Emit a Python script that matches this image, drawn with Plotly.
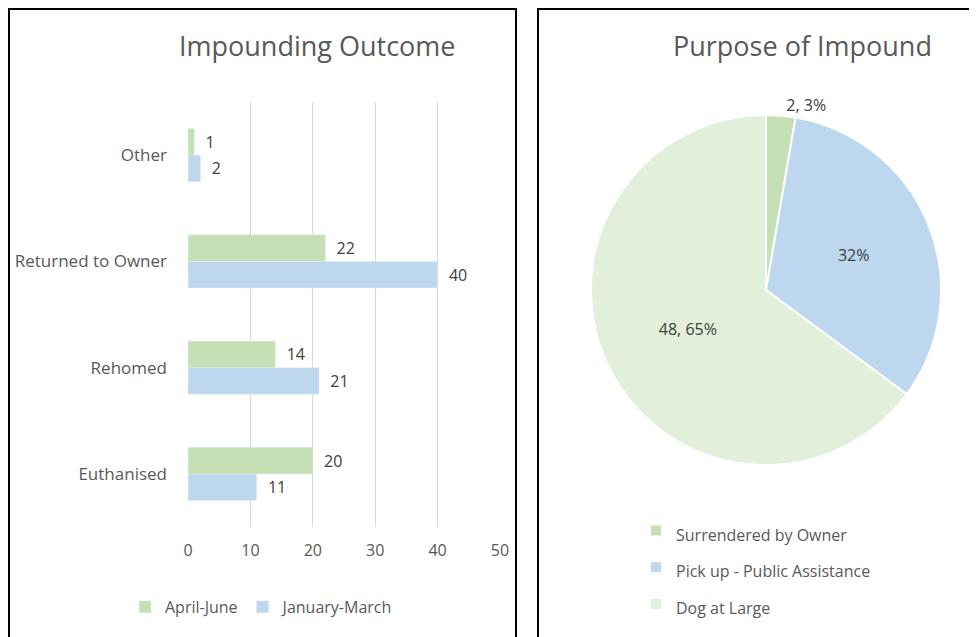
import plotly.graph_objects as go

# Impounding outcome (bar chart)
outcomes = ["Euthanised", "Rehomed", "Returned to Owner", "Other"]
jan_mar = [11, 21, 40, 2]
apr_jun = [20, 14, 22, 1]

# Purpose of impound (pie chart)
purposes = ["Surrendered by Owner", "Pick up - Public Assistance", "Dog at Large"]
purpose_counts = [2, 24, 48]
purpose_text = ["%{value}, %{percent:.0%}", "%{percent:.0%}", "%{value}, %{percent:.0%}"]

W, H = 977, 637
OFF = 8  # page body margin
FONT = "Open Sans, sans-serif"
GREEN = "#c5e0b4"
BLUE = "#bdd7ee"
PALE = "#e2efda"
GREY = "#595959"
DARK = "#404040"


def px_x(x):
    return (x - OFF) / W


def px_y(y):
    return 1 - (y - OFF) / H


fig = go.Figure()

fig.add_trace(go.Bar(
    y=outcomes, x=jan_mar, name="January-March", orientation="h",
    marker_color=BLUE, texttemplate="  %{x}", textposition="outside",
    textfont=dict(size=16, color=DARK), cliponaxis=False,
    legend="legend", legendrank=2,
))
fig.add_trace(go.Bar(
    y=outcomes, x=apr_jun, name="April-June", orientation="h",
    marker_color=GREEN, texttemplate="  %{x}", textposition="outside",
    textfont=dict(size=16, color=DARK), cliponaxis=False,
    legend="legend", legendrank=1,
))

# legend font is larger than the shown text to space the rows out
pie_labels = ['<span style="font-size:16px">%s</span>' % p for p in purposes]

fig.add_trace(go.Pie(
    labels=pie_labels, values=purpose_counts, sort=False,
    direction="clockwise", rotation=0,
    marker=dict(colors=[GREEN, BLUE, PALE], line=dict(color="white", width=2)),
    texttemplate=purpose_text,
    textposition=["outside", "inside", "inside"],
    insidetextorientation="horizontal",
    textfont=dict(size=16, color=DARK),
    hoverinfo="value+percent",
    domain=dict(x=[px_x(591), px_x(941)], y=[px_y(465), px_y(115)]),
    legend="legend2", showlegend=True,
))

fig.update_layout(
    width=W, height=H,
    margin=dict(l=0, r=0, t=0, b=0, autoexpand=False),
    paper_bgcolor="white", plot_bgcolor="white",
    font=dict(family=FONT, color=GREY, size=16),
    barmode="group", bargap=0.5, bargroupgap=0,
    xaxis=dict(domain=[px_x(188), px_x(500)], range=[0, 50], dtick=10,
               showgrid=True, gridcolor="#d9d9d9", gridwidth=1,
               zeroline=False, showline=False, ticks="",
               ticklabelstandoff=12,
               tickfont=dict(size=16, color=GREY)),
    yaxis=dict(domain=[px_y(527), px_y(102)], showgrid=False,
               showline=False, ticks="", ticklabelstandoff=20,
               tickfont=dict(size=17, color=GREY)),
    legend=dict(orientation="h", x=px_x(262), xanchor="center",
                y=px_y(607), yanchor="middle",
                font=dict(size=16, color=GREY),
                traceorder="normal"),
    legend2=dict(orientation="v", x=px_x(636), xanchor="left",
                 y=px_y(507), yanchor="top",
                 font=dict(size=26, color=GREY)),
    annotations=[
        dict(text="Impounding Outcome", x=px_x(317), y=px_y(45),
             xref="paper", yref="paper", showarrow=False,
             xanchor="center", yanchor="middle",
             font=dict(size=27, color=GREY)),
        dict(text="Purpose of Impound", x=px_x(802), y=px_y(45),
             xref="paper", yref="paper", showarrow=False,
             xanchor="center", yanchor="middle",
             font=dict(size=27, color=GREY)),
    ],
    shapes=[
        dict(type="rect", xref="paper", yref="paper",
             x0=px_x(9), x1=px_x(516), y0=px_y(660), y1=px_y(9),
             line=dict(color="black", width=2)),
        dict(type="rect", xref="paper", yref="paper",
             x0=px_x(538), x1=px_x(995), y0=px_y(660), y1=px_y(9),
             line=dict(color="black", width=2)),
    ],
)

fig.write_html("out.html")
